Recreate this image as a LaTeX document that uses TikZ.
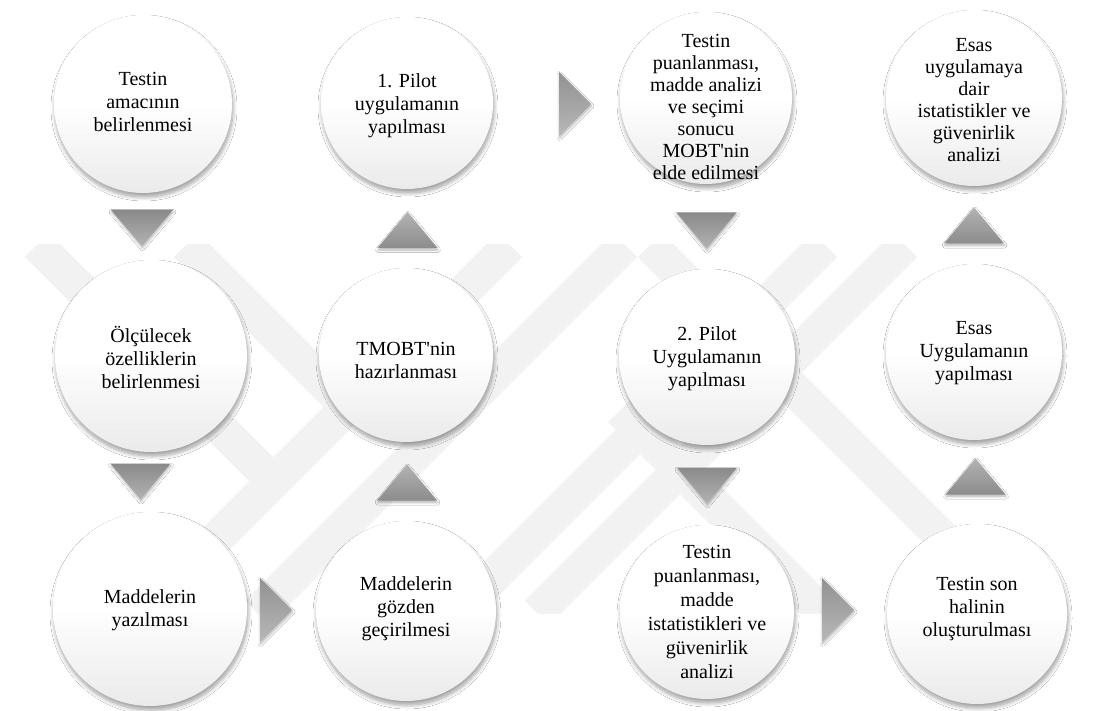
\documentclass[tikz,border=0pt]{standalone}
\usepackage{fontspec}
\setmainfont{Liberation Serif}
\usetikzlibrary{shadows.blur,calc}
\pgfdeclareverticalshading{circshade}{100bp}{color(0bp)=(black!20); color(22bp)=(black!9); color(50bp)=(white); color(100bp)=(white)}
\newcommand\cfont{\fontsize{20}{23}\selectfont}
\newcommand\cfontb{\fontsize{20}{22}\selectfont}
\newcommand\cfontc{\fontsize{20}{24}\selectfont}
\begin{document}
\begin{tikzpicture}[x=1pt,y=-1pt,
  circ/.style={circle, inner sep=0pt, shade, shading=circshade,
    blur shadow={shadow xshift=1pt, shadow yshift=-4pt, shadow blur radius=4pt, shadow blur steps=10, shadow opacity=38}},
  txt/.style={align=center, font=\cfont, inner sep=0pt, text=black},
  tribase/.style={blur shadow={shadow xshift=0.5pt, shadow yshift=-2pt, shadow blur radius=2.5pt, shadow blur steps=6, shadow opacity=30}},
  tridn/.style={tribase, top color=black!46, bottom color=black!30},
  triup/.style={tribase, top color=black!30, bottom color=black!45},
  trirt/.style={tribase, top color=black!43, bottom color=black!28},
  wm/.style={line width=34pt, draw=black!5, line cap=butt}]
\useasboundingbox (0,0) rectangle (1104,711);
\fill[white] (0,0) rectangle (1104,711);

% faint background watermark
\begin{scope}
\clip (0,245) rectangle (1104,613);
\draw[wm] (37,245) -- (266,474);
\draw[wm] (186,245) -- (340,399);
\draw[wm] (510,245) -- (142,613);
\draw[wm] (625,245) -- (257,613);
\draw[wm] (825,245) -- (457,613);
\draw[wm] (905,245) -- (537,613);
\draw[wm] (650,245) -- (1018,613);
\draw[wm] (620,410) -- (823,613);
\end{scope}

% circles
\node[circ, minimum size=178pt] (c1) at (143,104) {};
\node[circ, minimum size=172pt] (c2) at (407,103) {};
\node[circ, minimum size=172pt] (c3) at (706,98) {};
\node[circ, minimum size=176pt] (c4) at (974,98) {};
\node[circ, minimum size=192pt] (c5) at (151,356) {};
\node[circ, minimum size=174pt] (c6) at (406,355) {};
\node[circ, minimum size=176pt] (c7) at (707,357) {};
\node[circ, minimum size=176pt] (c8) at (974,352) {};
\node[circ, minimum size=194pt] (c9) at (150,609) {};
\node[circ, minimum size=180pt] (c10) at (406,611) {};
\node[circ, minimum size=174pt] (c11) at (707,612) {};
\node[circ, minimum size=180pt] (c12) at (977,614) {};

% arrow triangles
\coordinate (a1) at ($(c1)!0.5!(c5)+(-5,-2)$);
\coordinate (a2) at ($(c5)!0.5!(c9)+(-10,-1)$);
\coordinate (a3) at ($(c6)!0.5!(c2)+(1,1)$);
\coordinate (a4) at ($(c10)!0.5!(c6)+(1,-0.5)$);
\coordinate (a5) at ($(c3)!0.5!(c7)+(0,3)$);
\coordinate (a6) at ($(c7)!0.5!(c11)+(0,1)$);
\coordinate (a7) at ($(c8)!0.5!(c4)+(0,0.5)$);
\coordinate (a8) at ($(c12)!0.5!(c8)+(0,-6.5)$);
\coordinate (r1) at (575,104);
\coordinate (r2) at (276,610);
\coordinate (r3) at (838,610);

\path[tridn] ($(a1)+(-31,-18)$) -- ($(a1)+(31,-18)$) -- ($(a1)+(0,18)$) -- cycle;
\path[tridn] ($(a2)+(-30,-18)$) -- ($(a2)+(30,-18)$) -- ($(a2)+(0,18)$) -- cycle;
\path[tridn] ($(a5)+(-30,-18)$) -- ($(a5)+(30,-18)$) -- ($(a5)+(0,18)$) -- cycle;
\path[tridn] ($(a6)+(-30,-18)$) -- ($(a6)+(30,-18)$) -- ($(a6)+(0,18)$) -- cycle;
\path[triup] ($(a3)+(-30,18)$) -- ($(a3)+(30,18)$) -- ($(a3)+(0,-18)$) -- cycle;
\path[triup] ($(a4)+(-30,18)$) -- ($(a4)+(30,18)$) -- ($(a4)+(0,-18)$) -- cycle;
\path[triup] ($(a7)+(-30,18)$) -- ($(a7)+(30,18)$) -- ($(a7)+(0,-18)$) -- cycle;
\path[triup] ($(a8)+(-30,18)$) -- ($(a8)+(30,18)$) -- ($(a8)+(0,-18)$) -- cycle;
\path[trirt] ($(r1)+(-16,-32)$) -- ($(r1)+(16,0)$) -- ($(r1)+(-16,32)$) -- cycle;
\path[trirt] ($(r2)+(-16,-32)$) -- ($(r2)+(16,0)$) -- ($(r2)+(-16,32)$) -- cycle;
\path[trirt] ($(r3)+(-16,-32)$) -- ($(r3)+(16,0)$) -- ($(r3)+(-16,32)$) -- cycle;

% texts
\node[txt] (l1) at ($(c1)+(0,-2)$) {Testin\\amacının\\belirlenmesi};
\node[txt] (l2) at ($(c2)+(0,3)$) {1. Pilot\\uygulamanın\\yapılması};
\node[txt, font=\cfontb] (l3) at ($(c3)+(0,9)$) {Testin\\puanlanması,\\madde analizi\\ve seçimi\\sonucu\\MOBT\textquotesingle nin\\elde edilmesi};
\node[txt, font=\cfontb] (l4) at ($(c4)+(0,2)$) {Esas\\uygulamaya\\dair\\istatistikler ve\\güvenirlik\\analizi};
\node[txt] (l5) at ($(c5)+(0,1)$) {Ölçülecek\\özelliklerin\\belirlenmesi};
\node[txt] (l6) at ($(c6)+(0,5)$) {TMOBT\textquotesingle nin\\hazırlanması};
\node[txt] (l7) at ($(c7)+(0,2)$) {2. Pilot\\Uygulamanın\\yapılması};
\node[txt] (l8) at ($(c8)+(0,1)$) {Esas\\Uygulamanın\\yapılması};
\node[txt] (l9) at ($(c9)+(0,1)$) {Maddelerin\\yazılması};
\node[txt] (l10) at ($(c10)+(0,-2)$) {Maddelerin\\gözden\\geçirilmesi};
\node[txt, font=\cfontc] (l11) at ($(c11)+(0,0)$) {Testin\\puanlanması,\\madde\\istatistikleri ve\\güvenirlik\\analizi};
\node[txt] (l12) at ($(c12)+(0,-5)$) {Testin son\\halinin\\oluşturulması};
\end{tikzpicture}
\end{document}
